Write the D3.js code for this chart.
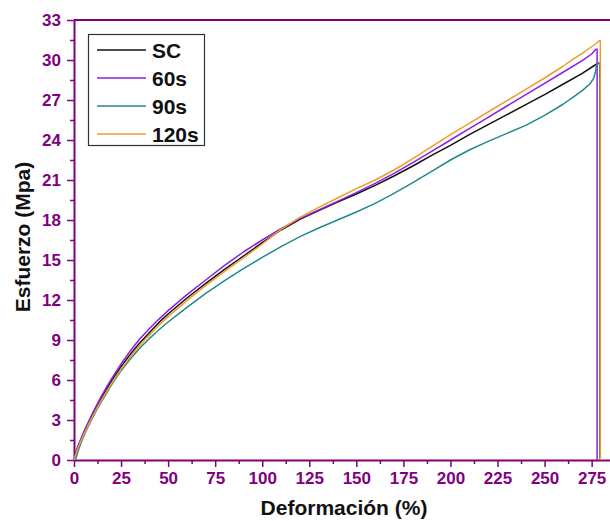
<!DOCTYPE html>
<html>
<head>
<meta charset="utf-8">
<script src="https://cdn.jsdelivr.net/npm/d3@7"></script>
<style>
  html, body { margin: 0; padding: 0; background: #fff; }
  svg { display: block; }
  text { font-family: Arial, "Liberation Sans", sans-serif; }
</style>
</head>
<body>
<svg id="chart" width="610" height="521"></svg>
<script>
// Stress–strain curves for the four treatments
const seriesNames = ["SC", "60s", "90s", "120s"];
const seriesColors = ["#111111", "#8a1fe0", "#21898a", "#f29b2b"];

const strainSC = [0, 1, 2, 4, 6, 8, 10, 12, 14, 17, 20, 25, 30, 35, 40, 45, 50, 60, 70, 80, 90, 100, 110, 120, 130, 140, 150, 160, 170, 180, 190, 200, 210, 220, 230, 240, 250, 260, 270, 276, 278.2, 279.4, 279.4];
const stressSC = [0, 0.5, 0.95, 1.65, 2.3, 2.9, 3.45, 4.0, 4.5, 5.25, 5.95, 7.0, 7.95, 8.8, 9.55, 10.3, 10.95, 12.15, 13.25, 14.3, 15.3, 16.3, 17.25, 18.05, 18.7, 19.35, 19.95, 20.6, 21.3, 22.05, 22.85, 23.6, 24.4, 25.15, 25.9, 26.65, 27.4, 28.2, 29.0, 29.55, 29.75, 29.75, 0];

const strain60 = [0, 1, 2, 4, 6, 8, 10, 12, 14, 17, 20, 25, 30, 35, 40, 45, 50, 60, 70, 80, 90, 100, 110, 120, 130, 140, 150, 160, 170, 180, 190, 200, 210, 220, 230, 240, 250, 260, 270, 275, 277.2, 277.9, 277.9];
const stress60 = [0, 0.55, 1.0, 1.7, 2.35, 2.95, 3.55, 4.1, 4.65, 5.4, 6.1, 7.2, 8.2, 9.1, 9.85, 10.55, 11.2, 12.4, 13.5, 14.6, 15.6, 16.5, 17.35, 18.1, 18.75, 19.4, 20.05, 20.75, 21.5, 22.3, 23.15, 24.0, 24.85, 25.7, 26.55, 27.4, 28.25, 29.1, 29.95, 30.45, 30.8, 30.8, 0];

const strain90 = [0, 1, 2, 4, 6, 8, 10, 12, 14, 17, 20, 25, 30, 35, 40, 45, 50, 60, 70, 80, 90, 100, 110, 120, 130, 140, 150, 160, 170, 180, 190, 200, 210, 220, 230, 240, 250, 260, 265, 270, 274, 276, 277, 277.6, 278.2, 279.4, 279.4];
const stress90 = [0, 0.1, 0.6, 1.4, 2.05, 2.65, 3.2, 3.75, 4.25, 4.95, 5.65, 6.7, 7.6, 8.4, 9.1, 9.75, 10.35, 11.45, 12.5, 13.45, 14.35, 15.2, 16.0, 16.75, 17.4, 18.0, 18.6, 19.25, 20.0, 20.8, 21.65, 22.5, 23.25, 23.9, 24.5, 25.1, 25.85, 26.7, 27.2, 27.7, 28.2, 28.6, 29.1, 29.6, 29.75, 29.7, 0];

const strain120 = [0, 1, 2, 4, 6, 8, 10, 12, 14, 17, 20, 25, 30, 35, 40, 45, 50, 60, 70, 80, 90, 100, 110, 120, 130, 140, 150, 160, 170, 180, 190, 200, 210, 220, 230, 240, 250, 260, 265, 270, 274, 277, 279.2, 279.6, 279.6];
const stress120 = [0, 0.45, 0.85, 1.55, 2.15, 2.75, 3.3, 3.85, 4.35, 5.05, 5.75, 6.8, 7.75, 8.6, 9.35, 10.1, 10.75, 11.95, 13.1, 14.15, 15.15, 16.2, 17.3, 18.2, 18.95, 19.65, 20.35, 21.0, 21.75, 22.6, 23.5, 24.4, 25.25, 26.1, 26.95, 27.8, 28.65, 29.55, 30.05, 30.5, 30.9, 31.2, 31.45, 31.45, 0];

const xTicks = [0, 25, 50, 75, 100, 125, 150, 175, 200, 225, 250, 275];
const yTicks = [0, 3, 6, 9, 12, 15, 18, 21, 24, 27, 30, 33];
const xTitle = "Deformación (%)";
const yTitle = "Esfuerzo (Mpa)";

const axisColor = "#800080";
const svg = d3.select("#chart");
const W = 610, H = 521;
const margin = { left: 74, top: 20, bottom: 61 };

const x = d3.scaleLinear().domain([0, 285]).range([margin.left, margin.left + 285 * 1.88236]);
const y = d3.scaleLinear().domain([0, 33]).range([H - margin.bottom, margin.top]);

// minor ticks sit halfway between the labelled ones
const xMinor = xTicks.map(v => v + 12.5).filter(v => v < 285);
const yMinor = yTicks.map(v => v + 1.5).filter(v => v < 33);

// frame line along the top
svg.append("line")
  .attr("x1", x(0)).attr("x2", x(285))
  .attr("y1", y(33)).attr("y2", y(33))
  .attr("stroke", axisColor).attr("stroke-width", 2);

function styleAxis(g) {
  g.select(".domain").attr("stroke", axisColor).attr("stroke-width", 2);
  g.selectAll(".tick line").attr("stroke", axisColor).attr("stroke-width", 1.5);
  g.selectAll(".tick text")
    .attr("fill", axisColor)
    .style("font-size", "17px")
    .style("font-weight", "bold")
    .style("font-family", "Arial, 'Liberation Sans', sans-serif");
}

// minor ticks
svg.append("g")
  .attr("transform", `translate(0,${y(0)})`)
  .call(d3.axisBottom(x).tickValues(xMinor).tickSize(4).tickFormat(""))
  .call(g => g.select(".domain").remove())
  .call(g => g.selectAll("line").attr("stroke", axisColor).attr("stroke-width", 1.5));
svg.append("g")
  .attr("transform", `translate(${x(0)},0)`)
  .call(d3.axisLeft(y).tickValues(yMinor).tickSize(4).tickFormat(""))
  .call(g => g.select(".domain").remove())
  .call(g => g.selectAll("line").attr("stroke", axisColor).attr("stroke-width", 1.5));

// main axes
svg.append("g")
  .attr("transform", `translate(0,${y(0)})`)
  .call(d3.axisBottom(x).tickValues(xTicks).tickSize(7).tickSizeOuter(0).tickPadding(5).tickFormat(d3.format("d")))
  .call(styleAxis);
svg.append("g")
  .attr("transform", `translate(${x(0)},0)`)
  .call(d3.axisLeft(y).tickValues(yTicks).tickSize(7).tickSizeOuter(0).tickPadding(6).tickFormat(d3.format("d")))
  .call(styleAxis);

// axis titles
svg.append("text")
  .attr("x", 344).attr("y", 515)
  .attr("text-anchor", "middle")
  .style("font-size", "21px").style("font-weight", "bold")
  .attr("fill", "#111")
  .text(xTitle);
svg.append("text")
  .attr("transform", `translate(30,237) rotate(-90)`)
  .attr("text-anchor", "middle")
  .style("font-size", "21px").style("font-weight", "bold")
  .attr("fill", "#111")
  .text(yTitle);

// curves
const strains = [strainSC, strain60, strain90, strain120];
const stresses = [stressSC, stress60, stress90, stress120];
const line = d3.line().x(d => x(d[0])).y(d => y(d[1]));

const plot = svg.append("g");
seriesNames.forEach((name, i) => {
  const pts = strains[i].map((s, j) => [s, stresses[i][j]]);
  plot.append("path")
    .datum(pts)
    .attr("d", line)
    .attr("fill", "none")
    .attr("stroke", seriesColors[i])
    .attr("stroke-width", 1.5)
    .attr("stroke-linejoin", "round");
});

// legend
const legend = svg.append("g");
legend.append("rect")
  .attr("x", 88.5).attr("y", 34.5)
  .attr("width", 116).attr("height", 111)
  .attr("fill", "#fff")
  .attr("stroke", "#333").attr("stroke-width", 1.2);
seriesNames.forEach((name, i) => {
  const cy = 50 + i * 28;
  legend.append("line")
    .attr("x1", 97).attr("x2", 146)
    .attr("y1", cy).attr("y2", cy)
    .attr("stroke", seriesColors[i]).attr("stroke-width", 1.5);
  legend.append("text")
    .attr("x", 152).attr("y", cy + 7.5)
    .style("font-size", "21px").style("font-weight", "bold")
    .attr("fill", "#111")
    .text(name);
});
</script>
</body>
</html>
